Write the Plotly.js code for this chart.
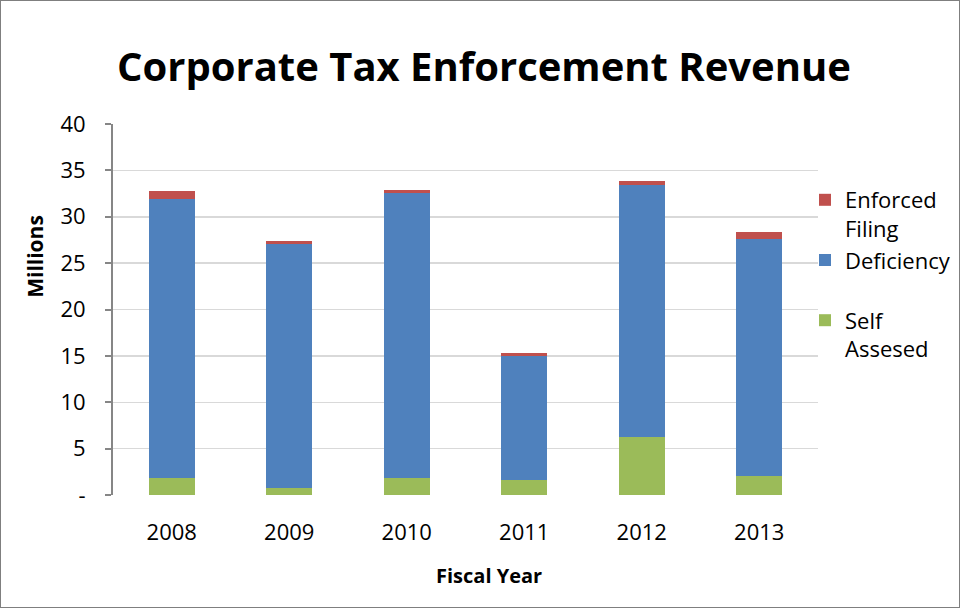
<!DOCTYPE html>
<html><head><meta charset="utf-8">
<script src="https://cdn.plot.ly/plotly-3.0.1.min.js"></script>
<style>
body{margin:0;padding:0;background:#fff;}
#wrap{position:absolute;left:0;top:0;width:958px;height:606px;border:1px solid #7f7f7f;}
#chart{width:958px;height:606px;}
</style></head>
<body><div id="wrap"><div id="chart"></div></div>
<script>
const years = ['2008','2009','2010','2011','2012','2013'];
const selfAssessed = [1.85, 0.76, 1.85, 1.63, 6.23, 2.07];
const deficiency = [30.05, 26.34, 30.75, 13.37, 27.17, 25.53];
const enforcedFiling = [0.9, 0.27, 0.28, 0.3, 0.46, 0.71];
const yTickVals = [0,5,10,15,20,25,30,35,40];
const yTickText = ['-','5','10','15','20','25','30','35','40'];

const FONT = 'Open Sans, Liberation Sans, Arial, sans-serif';
const traces = [
  {type:'bar', name:'Self<br>Assesed', x:years, y:selfAssessed, marker:{color:'#9bbb59'}},
  {type:'bar', name:'Deficiency<br> ', x:years, y:deficiency, marker:{color:'#4f81bd'}},
  {type:'bar', name:'Enforced<br>Filing', x:years, y:enforcedFiling, marker:{color:'#c0504d'}}
];
const layout = {
  width:958, height:606,
  margin:{l:112, r:141, t:123, b:112, autoexpand:false},
  barmode:'stack', bargap:0.61,
  paper_bgcolor:'#fff', plot_bgcolor:'#fff',
  font:{family:FONT, size:22, color:'#000'},
  title:{text:'<b>Corporate Tax Enforcement Revenue</b>', font:{family:FONT, size:40, color:'#000'},
         xref:'container', x:483/958, xanchor:'center', yref:'container', y:1-66/606, yanchor:'middle'},
  showlegend:true,
  legend:{xref:'container', yref:'container', x:804/958, xanchor:'left', y:1-178/606, yanchor:'top', traceorder:'reversed',
          valign:'top', font:{family:FONT, size:22, color:'#000'}, itemwidth:30, tracegroupgap:0, bgcolor:'rgba(0,0,0,0)'},
  xaxis:{type:'category', showgrid:false, showline:false, ticks:'', zeroline:false,
         tickfont:{family:FONT, size:22}, ticklabelstandoff:22},
  yaxis:{range:[0,40], tickvals:yTickVals, ticktext:yTickText, showgrid:true, gridcolor:'#d9d9d9', gridwidth:1.5,
         showline:true, linecolor:'#868686', linewidth:2, ticks:'outside', ticklen:6, tickcolor:'#868686', tickwidth:2,
         zeroline:false, tickfont:{family:FONT, size:22}, ticklabelstandoff:15},
  annotations:[
    {text:'<b>Millions</b>', xref:'paper', yref:'paper', x:-78/705, y:0.642, xanchor:'center', yanchor:'middle',
     textangle:-90, showarrow:false, font:{family:FONT, size:21, color:'#000'}},
    {text:'<b>Fiscal Year</b>', xref:'paper', yref:'paper', x:0.533, y:-80/371, xanchor:'center', yanchor:'middle',
     showarrow:false, font:{family:FONT, size:20, color:'#000'}}
  ]
};
Plotly.newPlot('chart', traces, layout, {displayModeBar:false, staticPlot:true});
</script></body></html>
